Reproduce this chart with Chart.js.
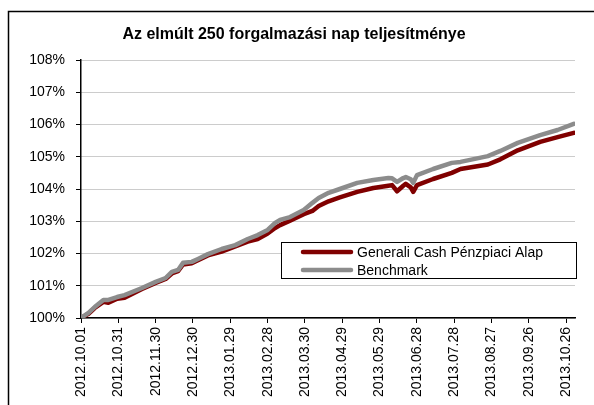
<!DOCTYPE html>
<html>
<head>
<meta charset="utf-8">
<script src="https://cdn.jsdelivr.net/npm/chart.js@4"></script>
<style>
  html, body { margin: 0; padding: 0; background: #fff; }
  #wrap { width: 594px; height: 405px; }
</style>
</head>
<body>
<div id="wrap"><canvas id="perfChart" width="594" height="405"></canvas></div>
<script>
const chartTitle = 'Az elmúlt 250 forgalmazási nap teljesítménye';
const fundName = 'Generali Cash Pénzpiaci Alap';
const benchName = 'Benchmark';

// days since 2012.10.01
const days = [0, 6, 11, 18, 22, 29, 35, 49, 60, 68, 73, 78, 82, 89, 94, 102, 113, 124, 134, 142,
  150, 156, 160, 168, 179, 186, 191, 199, 208, 222, 235, 247, 250, 254, 259, 261, 265, 267, 270,
  283, 298, 305, 327, 337, 351, 369, 383, 396];

const fundValues = [100.00, 100.13, 100.31, 100.50, 100.47, 100.60, 100.63, 100.90, 101.09, 101.21,
  101.38, 101.45, 101.66, 101.70, 101.79, 101.94, 102.06, 102.22, 102.37, 102.45,
  102.62, 102.79, 102.88, 103.02, 103.22, 103.32, 103.47, 103.62, 103.74, 103.91, 104.03, 104.10,
  104.12, 103.93, 104.10, 104.16, 104.05, 103.91, 104.12,
  104.31, 104.50, 104.62, 104.76, 104.92, 105.20, 105.46, 105.61, 105.74];

const benchValues = [100.00, 100.16, 100.34, 100.56, 100.56, 100.65, 100.71, 100.93, 101.12, 101.24,
  101.43, 101.49, 101.71, 101.74, 101.83, 101.98, 102.14, 102.26, 102.45, 102.57,
  102.73, 102.95, 103.04, 103.13, 103.35, 103.57, 103.72, 103.88, 104.00, 104.19, 104.28, 104.34,
  104.33, 104.22, 104.34, 104.37, 104.30, 104.19, 104.43,
  104.62, 104.81, 104.84, 105.02, 105.18, 105.43, 105.67, 105.83, 106.02];

const tickDays = [0, 30, 60, 90, 120, 150, 180, 210, 240, 270, 300, 330, 360, 390];
const tickLabels = ['2012.10.01', '2012.10.31', '2012.11.30', '2012.12.30', '2013.01.29', '2013.02.28',
  '2013.03.30', '2013.04.29', '2013.05.29', '2013.06.28', '2013.07.28', '2013.08.27', '2013.09.26', '2013.10.26'];

const FONT = 'Helvetica, "Liberation Sans", Arial, sans-serif';
const FUND_COLOR = '#800000';
const BENCH_COLOR = '#8c8c8c';

// frame, title and legend box
const decorPlugin = {
  id: 'decor',
  beforeDraw(chart) {
    const ctx = chart.ctx;
    ctx.save();
    ctx.fillStyle = '#fff';
    ctx.fillRect(0, 0, chart.width, chart.height);
    ctx.strokeStyle = '#000';
    ctx.lineWidth = 1.5;
    ctx.beginPath();
    ctx.moveTo(8.5, chart.height);
    ctx.lineTo(8.5, 11.5);
    ctx.lineTo(chart.width, 11.5);
    ctx.stroke();
    ctx.fillStyle = '#000';
    ctx.font = 'bold 16px ' + FONT;
    ctx.textAlign = 'center';
    ctx.textBaseline = 'middle';
    ctx.fillText(chartTitle, 294, 35);
    ctx.restore();
  },
  afterDatasetsDraw(chart) {
    const ctx = chart.ctx;
    ctx.save();
    ctx.fillStyle = '#fff';
    ctx.fillRect(281, 242, 296, 37);
    ctx.strokeStyle = '#000';
    ctx.lineWidth = 1;
    ctx.strokeRect(281.5, 242.5, 295, 36);
    const rows = [
      { label: chart.data.datasets[0].label, color: chart.data.datasets[0].borderColor, y: 252 },
      { label: chart.data.datasets[1].label, color: chart.data.datasets[1].borderColor, y: 270 }
    ];
    ctx.font = '14px ' + FONT;
    ctx.textAlign = 'left';
    ctx.textBaseline = 'middle';
    rows.forEach(r => {
      ctx.strokeStyle = r.color;
      ctx.lineWidth = 4.5;
      ctx.lineCap = 'round';
      ctx.beginPath();
      ctx.moveTo(303, r.y);
      ctx.lineTo(351, r.y);
      ctx.stroke();
      ctx.fillStyle = '#000';
      ctx.fillText(r.label, 357, r.y + 1);
    });
    ctx.restore();
  }
};

const ctx = document.getElementById('perfChart').getContext('2d');
new Chart(ctx, {
  type: 'line',
  data: {
    datasets: [{
      label: fundName,
      data: days.map((d, i) => ({ x: d, y: fundValues[i] })),
      borderColor: FUND_COLOR,
      borderWidth: 4.5,
      pointRadius: 0,
      tension: 0,
      order: 1,
      borderCapStyle: 'round',
      borderJoinStyle: 'round'
    }, {
      label: benchName,
      data: days.map((d, i) => ({ x: d, y: benchValues[i] })),
      borderColor: BENCH_COLOR,
      borderWidth: 4.5,
      pointRadius: 0,
      tension: 0,
      order: 0,
      borderCapStyle: 'round',
      borderJoinStyle: 'round'
    }]
  },
  options: {
    responsive: false,
    animation: false,
    layout: { padding: { left: 0, top: 60, right: 19, bottom: 0 } },
    plugins: {
      legend: { display: false },
      title: { display: false },
      tooltip: { enabled: false }
    },
    scales: {
      x: {
        type: 'linear',
        min: 0,
        max: 397,
        afterBuildTicks: scale => { scale.ticks = tickDays.map(v => ({ value: v })); },
        afterFit: scale => { scale.height = 87; },
        ticks: {
          autoSkip: false,
          maxRotation: 90,
          minRotation: 90,
          padding: 4,
          color: '#000',
          font: { family: FONT, size: 14 },
          callback: (v, i) => tickLabels[i]
        },
        grid: { drawOnChartArea: false, drawTicks: true, tickLength: 5, tickColor: '#000' },
        border: { display: true, color: '#000', width: 1.5 }
      },
      y: {
        min: 100,
        max: 108,
        afterFit: scale => { scale.width = 81; },
        ticks: {
          stepSize: 1,
          padding: 11,
          color: '#000',
          font: { family: FONT, size: 14 },
          callback: v => v + '%'
        },
        grid: { color: '#999', lineWidth: 1, tickLength: 5, tickColor: '#000', tickBorderDash: [4, 0] },
        border: { display: true, color: '#000', width: 1.5, dash: [1, 1] }
      }
    }
  },
  plugins: [decorPlugin]
});
</script>
</body>
</html>
